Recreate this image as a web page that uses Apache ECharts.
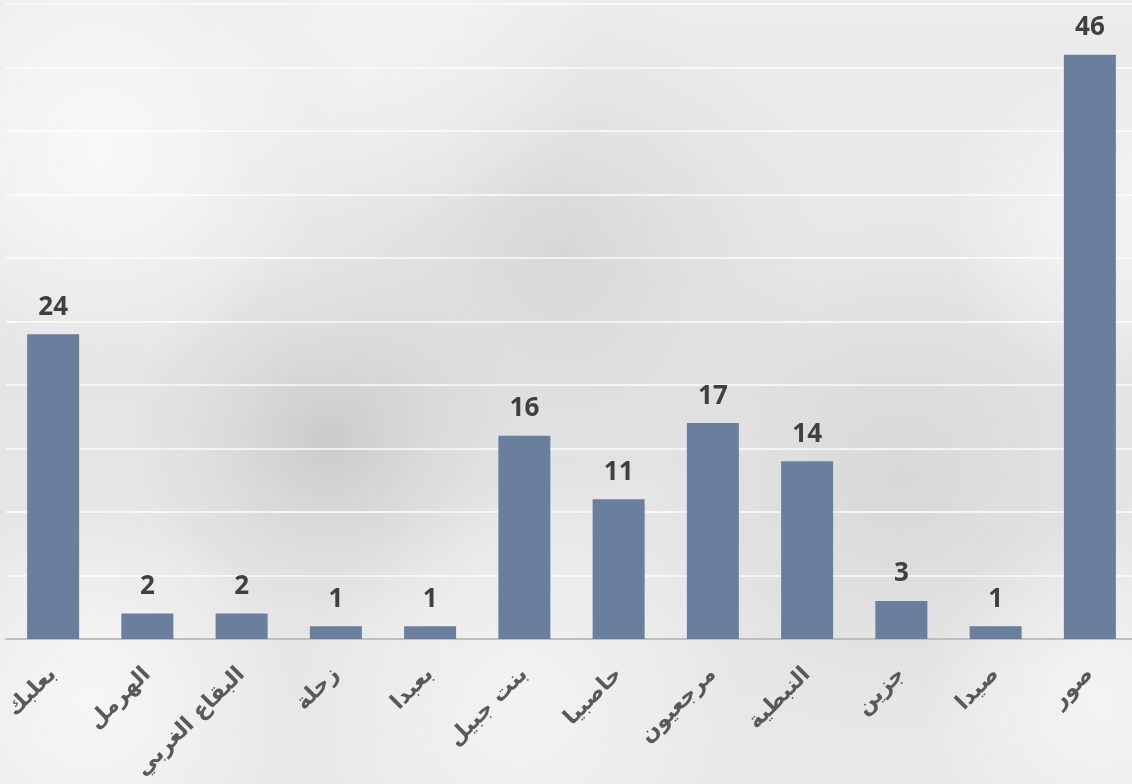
<!DOCTYPE html>
<html><head><meta charset="utf-8">
<script src="https://cdn.jsdelivr.net/npm/echarts@6/dist/echarts.min.js"></script>
<style>html,body{margin:0;padding:0;}#c{width:1132px;height:784px;}</style>
</head><body><div id="c"></div>
<script>
const categories = ['بعلبك','الهرمل','البقاع الغربي','زحلة','بعبدا','بنت جبيل','حاصبيا','مرجعيون','النبطية','جزين','صيدا','صور'];
const values = [24, 2, 2, 1, 1, 16, 11, 17, 14, 3, 1, 46];

const chart = echarts.init(document.getElementById('c'));
function rg(x, y, r, c) {
  return {type:'circle', silent:true, z:-10, shape:{cx:x, cy:y, r:r},
    style:{fill:new echarts.graphic.RadialGradient(0.5,0.5,0.5,[{offset:0,color:c},{offset:1,color:'rgba(255,255,255,0)'}])}};
}
function dg(x, y, r, c) {
  return {type:'circle', silent:true, z:-10, shape:{cx:x, cy:y, r:r},
    style:{fill:new echarts.graphic.RadialGradient(0.5,0.5,0.5,[{offset:0,color:c},{offset:1,color:'rgba(200,200,200,0)'}])}};
}
chart.setOption({
  backgroundColor: new echarts.graphic.LinearGradient(0,0,0,1,[
    {offset:0,color:'#ececec'},{offset:0.5,color:'#e4e4e4'},{offset:1,color:'#e8e8e8'}]),
  graphic: [
    dg(330, 440, 200, 'rgba(170,170,170,0.45)'),
    dg(560, 250, 260, 'rgba(185,185,185,0.35)'),
    dg(900, 480, 260, 'rgba(190,190,190,0.35)'),
    rg(100, 150, 220, 'rgba(250,250,250,0.9)'),
    rg(90, 700, 200, 'rgba(250,250,250,0.8)'),
    rg(520, 700, 220, 'rgba(250,250,250,0.6)'),
    rg(1100, 220, 160, 'rgba(248,248,248,0.7)'),
    rg(1100, 700, 180, 'rgba(248,248,248,0.7)'),
    rg(400, 40, 200, 'rgba(245,245,245,0.6)')
  ],
  grid: {left: 6, width: 1131, top: 4, bottom: 145, containLabel: false, outerBoundsMode: 'none'},
  xAxis: {
    type: 'category', data: categories,
    axisLine: {show: true, lineStyle: {color: '#bfbfbf', width: 2}},
    axisTick: {show: false},
    axisLabel: {rotate: 45, interval: 0, margin: 32, color: '#595959',
      fontFamily: 'DejaVu Sans', fontWeight: 'bold', fontSize: 22}
  },
  yAxis: {
    type: 'value', min: 0, max: 50, interval: 5,
    axisLabel: {show: false}, axisLine: {show: false}, axisTick: {show: false},
    splitLine: {lineStyle: {color: 'rgba(255,255,255,0.9)', width: 1.5}}
  },
  series: [{
    type: 'bar', data: values, barWidth: 52,
    itemStyle: {color: '#6a7f9e'},
    label: {show: true, position: 'top', distance: 14, color: '#404040',
      fontFamily: 'Open Sans', fontWeight: 'bold', fontSize: 26}
  }]
});
</script></body></html>
